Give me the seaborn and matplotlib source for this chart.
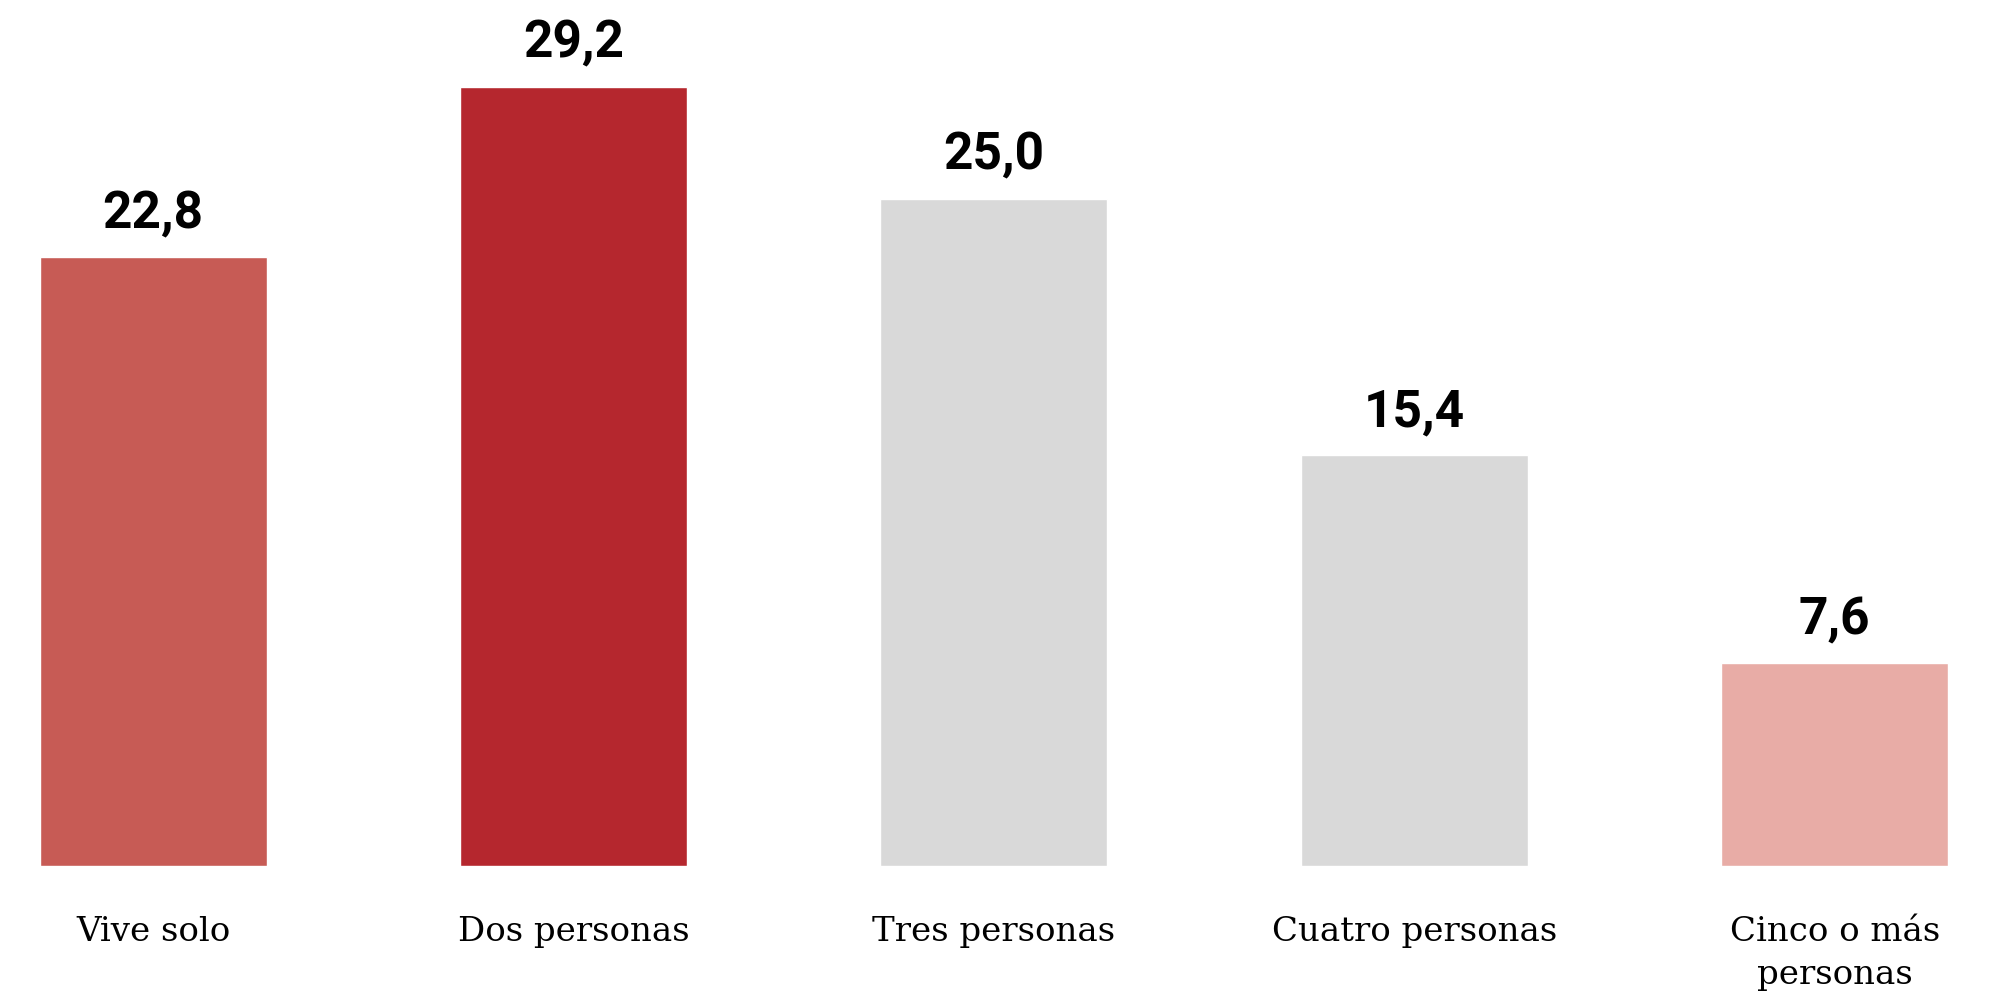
import pandas as pd
import matplotlib.pyplot as plt
import seaborn as sns

categorias = ['Vive solo', 'Dos personas', 'Tres personas', 'Cuatro personas', 'Cinco o más\npersonas']
valores = [22.8, 29.2, 25.0, 15.4, 7.6]
colores = ['#c75b55', '#b5272e', '#d9d9d9', '#d9d9d9', '#e8aca6']

df = pd.DataFrame({'hogar': categorias, 'pct': valores})

sns.set_style('white')
fig = plt.figure(figsize=(19.94, 9.92), dpi=100)
ax = fig.add_axes([0, 0.127, 1, 0.861])

sns.barplot(data=df, x='hogar', y='pct', hue='hogar', palette=colores,
            width=0.54, saturation=1, legend=False, ax=ax)

ax.set_xlim(-0.364, 4.379)
ax.set_ylim(0, 32)

for i, v in enumerate(valores):
    ax.annotate(f'{v:.1f}'.replace('.', ','), (i, v), xytext=(0, 18),
                textcoords='offset pixels', ha='center', va='bottom',
                fontsize=37, fontfamily='Roboto', fontweight='bold', color='black')

ax.set_xlabel('')
ax.set_ylabel('')
ax.set_yticks([])
ax.tick_params(axis='x', length=0, pad=36, colors='black')
for lab in ax.get_xticklabels():
    lab.set_fontfamily('DejaVu Serif')
    lab.set_fontsize(24.5)
    lab.set_verticalalignment('top')
    lab.set_linespacing(1.42)
sns.despine(ax=ax, left=True, bottom=True)

plt.savefig('out.png', dpi=100)
